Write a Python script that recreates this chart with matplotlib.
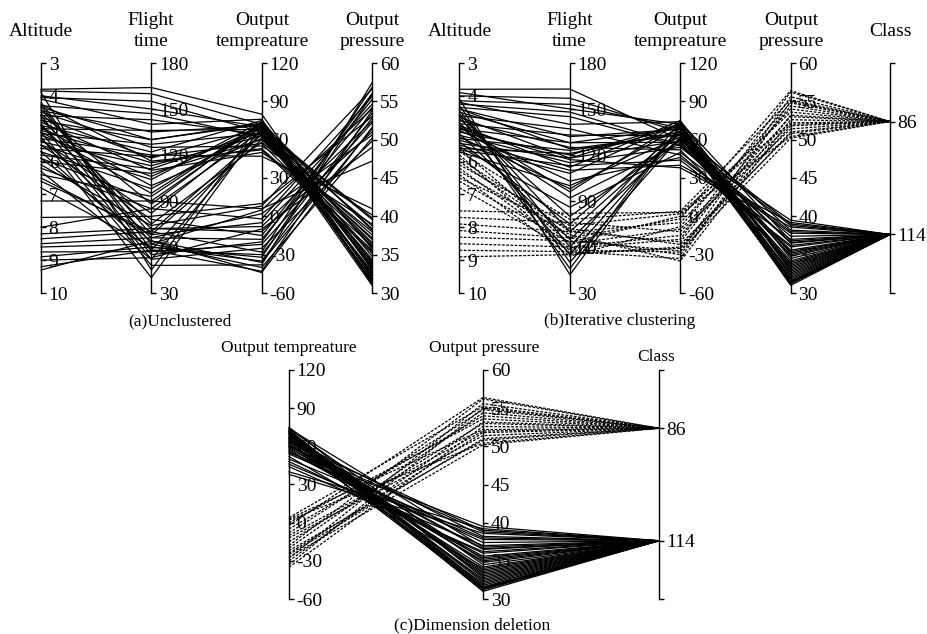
import matplotlib
matplotlib.use("Agg")
import matplotlib.pyplot as plt

plt.rcParams['font.family'] = ['Liberation Serif', 'DejaVu Serif']
plt.rcParams['axes.unicode_minus'] = False

# ---- (a) unclustered records ----
a_altitude = [3.8, 3.85, 3.9, 4.0, 4.05, 4.1, 4.2, 4.3, 4.35, 4.4,
              4.45, 4.5, 4.55, 4.6, 4.65, 4.7, 4.75, 4.8, 4.85, 4.9,
              4.95, 5.0, 5.05, 5.1, 5.15, 5.2, 5.3, 5.35, 5.4, 5.5,
              5.6, 5.7, 5.8, 5.9, 6.0, 6.2, 6.4, 6.6, 4.25, 5.25,
              4.3, 4.6, 4.9, 5.1, 5.3, 5.5, 5.7, 5.9, 6.1, 6.3,
              6.5, 6.8, 7.2, 7.7, 8.0, 8.2, 8.35, 8.5, 8.6, 8.75,
              8.9, 9.0, 9.2, 9.3]
a_flight = [164, 160, 45, 150, 155, 140, 58, 147, 130, 68,
            135, 125, 88, 143, 118, 75, 130, 110, 52, 122,
            100, 136, 115, 95, 127, 106, 120, 82, 113, 104,
            119, 98, 111, 90, 108, 85, 93, 70, 116, 40,
            62, 55, 72, 48, 66, 78, 58, 64, 74, 52,
            68, 60, 90, 80, 85, 72, 70, 66, 62, 57,
            60, 53, 58, 64]
a_temp = [80, 72, 74, 70, 66, 76, 68, 62, 73, 60,
          71, 55, 74, 64, 69, 58, 72, 50, 66, 75,
          61, 68, 53, 73, 65, 70, 47, 71, 63, 74,
          57, 69, 66, 72, 60, 67, 73, 64, 52, 70,
          5, -20, -8, -38, 2, -15, -30, -44, 8, -25,
          -5, -35, 6, 10, -2, -12, -28, -18, -40, -22,
          -32, -10, -43, -36]
a_press = [33.0, 36.0, 31.2, 38.4, 34.2, 32.0, 39.6, 35.4, 31.6, 37.2,
           33.6, 40.2, 32.4, 36.6, 31.0, 38.0, 34.8, 39.0, 32.8, 35.8,
           37.6, 31.8, 36.2, 33.2, 38.8, 31.4, 41.0, 34.0, 37.0, 32.2,
           35.2, 39.8, 33.8, 31.6, 36.4, 34.4, 38.2, 32.6, 35.6, 33.4,
           54.0, 56.0, 52.4, 57.4, 50.6, 55.2, 53.4, 51.6, 56.6, 49.8,
           54.6, 52.8, 47.2, 53.0, 55.6, 51.0, 56.8, 54.2, 50.2, 52.2,
           55.8, 49.0, 53.8, 51.4]

# ---- (b)/(c) records after clustering ----
b_altitude = [3.8, 3.9, 4.0, 4.1, 4.2, 4.3, 4.35, 4.4, 4.45, 4.5,
              4.55, 4.6, 4.65, 4.7, 4.75, 4.8, 4.85, 4.9, 4.95, 5.0,
              5.05, 5.1, 5.15, 5.2, 5.25, 5.3, 5.35, 5.4, 5.45, 5.5,
              5.55, 5.6, 5.65, 5.7, 4.15, 4.25, 4.6, 5.0, 4.4, 4.9,
              5.6, 5.7, 5.8, 5.9, 6.0, 6.1, 6.2, 6.3, 6.4, 6.5,
              6.6, 6.8, 7.5, 7.7, 7.9, 8.1, 8.3, 8.5, 8.7, 8.9]
b_flight = [163, 150, 157, 42, 140, 50, 145, 132, 60, 128,
            70, 137, 118, 80, 125, 55, 133, 112, 92, 128,
            103, 120, 65, 115, 98, 123, 110, 75, 118, 108,
            86, 121, 113, 100, 153, 148, 46, 117, 124, 96,
            62, 78, 56, 70, 66, 74, 59, 68, 54, 72,
            63, 58, 82, 76, 70, 66, 64, 60, 57, 55]
b_temp = [60, 72, 66, 70, 74, 62, 55, 68, 73, 58,
          65, 48, 71, 60, 52, 67, 63, 75, 57, 69,
          46, 72, 61, 54, 70, 64, 40, 67, 59, 73,
          50, 66, 44, 62, 69, 56, 71, 38, 64, 74,
          -10, 4, -25, -5, -30, 2, -18, -35, -8, -22,
          0, -28, 3, -12, -20, -2, -27, -15, -33, -24]
b_press = [36.5, 33.0, 38.2, 31.2, 34.5, 32.0, 39.5, 35.2, 31.8, 37.4,
           33.6, 36.0, 32.4, 38.8, 34.0, 31.5, 39.0, 32.8, 35.6, 33.2,
           37.0, 31.4, 36.6, 38.0, 32.2, 34.8, 39.2, 33.8, 35.0, 31.6,
           37.8, 32.6, 36.2, 34.2, 31.0, 35.4, 33.4, 38.6, 31.3, 36.8,
           52.0, 55.2, 51.0, 54.0, 53.2, 50.4, 56.2, 52.6, 54.8, 50.8,
           53.6, 55.6, 52.2, 51.4, 54.4, 56.4, 50.2, 53.0, 55.0, 51.8]
b_class = [114, 114, 114, 114, 114, 114, 114, 114, 114, 114,
           114, 114, 114, 114, 114, 114, 114, 114, 114, 114,
           114, 114, 114, 114, 114, 114, 114, 114, 114, 114,
           114, 114, 114, 114, 114, 114, 114, 114, 114, 114,
           86, 86, 86, 86, 86, 86, 86, 86, 86, 86,
           86, 86, 86, 86, 86, 86, 86, 86, 86, 86]

# axis ranges and ticks (first value drawn at the bottom)
alt_lim, alt_ticks = (10, 3), [3, 4, 5, 6, 7, 8, 9, 10]
flight_lim, flight_ticks = (30, 180), [30, 60, 90, 120, 150, 180]
temp_lim, temp_ticks = (-60, 120), [-60, -30, 0, 30, 60, 90, 120]
press_lim, press_ticks = (30, 60), [30, 35, 40, 45, 50, 55, 60]
class_lim, class_ticks = (128.5, 71.5), [86, 114]

W, H = 927, 634
FS = 14
fig = plt.figure(figsize=(W / 100, H / 100), dpi=100)


def px_rect(x0, x1, ytop, ybot):
    return [x0 / W, 1 - ybot / H, (x1 - x0) / W, (ybot - ytop) / H]


def parallel(rect, pos, columns, lims, ticks, styles):
    ax = fig.add_axes(rect)
    ax.set_xlim(0, pos[-1])
    ax.set_ylim(0, 1)
    ax.axis('off')
    for i, (lim, tk) in enumerate(zip(lims, ticks)):
        t = ax.twinx()
        t.set_ylim(*lim)
        for s in ('left', 'top', 'bottom'):
            t.spines[s].set_visible(False)
        t.spines['right'].set_position(('axes', pos[i] / pos[-1]))
        t.spines['right'].set_linewidth(1.0)
        t.set_yticks(tk)
        t.set_yticks([lim[0], lim[1]], minor=True)
        t.tick_params(axis='y', which='both', direction='out', length=3.5,
                      width=1.0, pad=2, labelsize=FS)
    # records as polylines
    for j in range(len(columns[0])):
        ys = [(col[j] - lim[0]) / (lim[1] - lim[0]) for col, lim in zip(columns, lims)]
        ax.plot(pos, ys, color='black', lw=0.9, ls=styles[j],
                clip_on=False, solid_joinstyle='miter')
    ax.set_zorder(5)
    return ax


solid = '-'
dashed = (0, (2.2, 1.2))

# (a) Unclustered
parallel(px_rect(41, 372, 63, 293), [0, 1, 2, 3],
         [a_altitude, a_flight, a_temp, a_press],
         [alt_lim, flight_lim, temp_lim, press_lim],
         [alt_ticks, flight_ticks, temp_ticks, press_ticks],
         [solid] * len(a_altitude))

# (b) Iterative clustering
b_styles = [solid if c == 114 else dashed for c in b_class]
parallel(px_rect(459.5, 890, 63, 293), [0, 1, 2, 3, 3.9],
         [b_altitude, b_flight, b_temp, b_press, b_class],
         [alt_lim, flight_lim, temp_lim, press_lim, class_lim],
         [alt_ticks, flight_ticks, temp_ticks, press_ticks, class_ticks],
         b_styles)

# (c) Dimension deletion
parallel(px_rect(289, 659, 370, 599), [0, 1, 1.907],
         [b_temp, b_press, b_class],
         [temp_lim, press_lim, class_lim],
         [temp_ticks, press_ticks, class_ticks],
         b_styles)


def label(x, y, s, size=FS):
    fig.text(x / W, 1 - y / H, s, ha='center', va='center',
             multialignment='center', fontsize=size, linespacing=1.3)


for x, s in zip([41, 151, 262, 372], ['Altitude', 'Flight\ntime', 'Output\ntempreature', 'Output\npressure']):
    label(x, 31, s)
for x, s in zip([459.5, 569.5, 680, 791, 890],
                ['Altitude', 'Flight\ntime', 'Output\ntempreature', 'Output\npressure', 'Class']):
    label(x, 31, s)
label(289, 348, 'Output tempreature', 12.5)
label(484, 348, 'Output pressure', 12.5)
label(656, 357, 'Class', 12.5)

label(180, 321, '(a)Unclustered', 12.5)
label(620, 321, '(b)Iterative clustering', 12.5)
label(472, 625, '(c)Dimension deletion', 12.5)

fig.savefig('out.png', dpi=100)
